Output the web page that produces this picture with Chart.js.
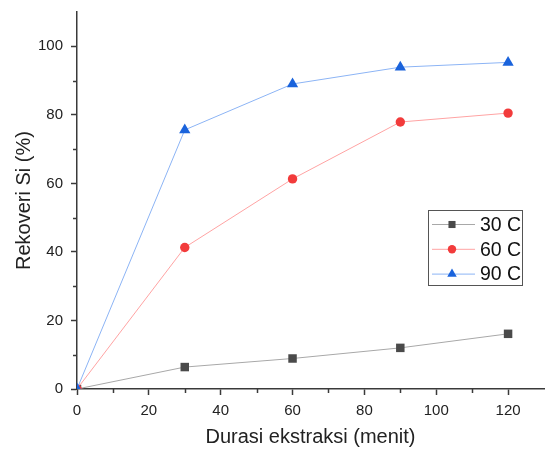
<!DOCTYPE html>
<html>
<head>
<meta charset="utf-8">
<script src="https://cdn.jsdelivr.net/npm/chart.js@4"></script>
<style>
  html, body { margin: 0; padding: 0; background: #fff; }
  #wrap { width: 545px; height: 450px; }
</style>
</head>
<body>
<div id="wrap"><canvas id="chart" width="545" height="450"></canvas></div>
<script>
// extraction time (minutes) and Si recovery (%) per temperature
const durations = [0, 30, 60, 90, 120];
const rec30 = [0, 6.4, 8.9, 12.0, 16.1];
const rec60 = [0, 41.3, 61.3, 77.9, 80.5];
const rec90 = [0, 75.6, 89.0, 93.9, 95.3];
const seriesLabels = ['30 C', '60 C', '90 C'];

const FONT = "'Liberation Sans', Arial, sans-serif";
const AXIS = '#3a3a3a';

function toPoints(ys) {
    return durations.map((x, i) => ({ x: x, y: ys[i] }));
}

// minor tick marks halfway between the labelled ones
const minorTicks = {
    id: 'minorTicks',
    afterDraw(chart) {
        const { ctx, scales: { x, y } } = chart;
        ctx.save();
        ctx.strokeStyle = AXIS;
        ctx.lineWidth = 1.5;
        for (let v = 10; v < 130; v += 20) {
            const px = Math.round(x.getPixelForValue(v)) + 0.5;
            ctx.beginPath();
            ctx.moveTo(px, x.top);
            ctx.lineTo(px, x.top + 4);
            ctx.stroke();
        }
        for (let v = 10; v < 110; v += 20) {
            const py = Math.round(y.getPixelForValue(v)) + 0.5;
            ctx.beginPath();
            ctx.moveTo(y.right, py);
            ctx.lineTo(y.right - 4, py);
            ctx.stroke();
        }
        ctx.restore();
    }
};

// boxed legend with line + marker samples, like the original plot
const legendRadius = [5, 4.2, 5.5];
const boxLegend = {
    id: 'boxLegend',
    afterDraw(chart) {
        const { ctx, chartArea } = chart;
        const boxW = 94, boxH = 75;
        const bx = chartArea.right - 22 - boxW;
        const by = 210;
        ctx.save();
        ctx.fillStyle = '#fff';
        ctx.fillRect(bx + 0.5, by + 0.5, boxW, boxH);
        ctx.strokeStyle = '#555';
        ctx.lineWidth = 1;
        ctx.strokeRect(bx + 0.5, by + 0.5, boxW, boxH);

        chart.data.datasets.forEach((ds, i) => {
            const cy = by + 14.5 + i * 24.8;
            ctx.strokeStyle = ds.borderColor;
            ctx.lineWidth = 1;
            ctx.beginPath();
            ctx.moveTo(bx + 4, cy);
            ctx.lineTo(bx + 47, cy);
            ctx.stroke();

            ctx.fillStyle = ds.pointBackgroundColor;
            ctx.strokeStyle = ds.pointBorderColor;
            Chart.helpers.drawPoint(ctx, {
                pointStyle: ds.pointStyle,
                radius: legendRadius[i],
                borderWidth: 0,
                rotation: 0
            }, bx + 24, cy);

            ctx.fillStyle = '#111';
            ctx.font = '19.5px ' + FONT;
            ctx.textBaseline = 'middle';
            ctx.textAlign = 'left';
            ctx.fillText(ds.label, bx + 52, cy + 1);
        });
        ctx.restore();
    }
};

new Chart(document.getElementById('chart'), {
    type: 'line',
    data: {
        datasets: [
            {
                label: seriesLabels[0],
                data: toPoints(rec30),
                borderColor: '#a8a8a8',
                borderWidth: 1,
                pointStyle: 'rect',
                pointRadius: 6,
                pointBackgroundColor: '#4a4a4a',
                pointBorderColor: '#4a4a4a',
                pointBorderWidth: 0,
                order: 2,
                clip: 0
            },
            {
                label: seriesLabels[1],
                data: toPoints(rec60),
                borderColor: '#ffa3a3',
                borderWidth: 1,
                pointStyle: 'circle',
                pointRadius: 4.7,
                pointBackgroundColor: '#f23b3b',
                pointBorderColor: '#f23b3b',
                pointBorderWidth: 0,
                order: 1,
                clip: 0
            },
            {
                label: seriesLabels[2],
                data: toPoints(rec90),
                borderColor: '#8cb4f5',
                borderWidth: 1,
                pointStyle: 'triangle',
                pointRadius: 6.5,
                pointBackgroundColor: '#1a63dc',
                pointBorderColor: '#1a63dc',
                pointBorderWidth: 0,
                order: 0,
                clip: 0
            }
        ]
    },
    options: {
        responsive: false,
        animation: false,
        layout: {
            autoPadding: false,
            padding: { top: 12, right: 1, left: 0, bottom: 0 }
        },
        plugins: {
            legend: { display: false },
            tooltip: { enabled: false }
        },
        scales: {
            x: {
                type: 'linear',
                min: 0,
                max: 130,
                afterFit(scale) {
                    scale.height = 61;
                    scale.paddingLeft = 0;
                    scale.paddingRight = 0;
                },
                ticks: {
                    stepSize: 20,
                    includeBounds: false,
                    maxRotation: 0,
                    padding: 7,
                    color: '#222',
                    font: { family: FONT, size: 15 }
                },
                grid: {
                    drawOnChartArea: false,
                    tickLength: 6,
                    tickWidth: 1.5,
                    color: AXIS
                },
                border: { color: AXIS, width: 1.5 },
                title: {
                    display: true,
                    text: 'Durasi ekstraksi (menit)',
                    color: '#222',
                    font: { family: FONT, size: 20 },
                    padding: { top: 4, bottom: 1 }
                }
            },
            y: {
                min: 0,
                max: 110,
                afterFit(scale) {
                    scale.width = 77;
                    scale.paddingTop = 0;
                    scale.paddingBottom = 0;
                },
                ticks: {
                    stepSize: 20,
                    includeBounds: false,
                    padding: 8,
                    color: '#222',
                    font: { family: FONT, size: 15 }
                },
                grid: {
                    drawOnChartArea: false,
                    tickLength: 6,
                    tickWidth: 1.5,
                    color: AXIS
                },
                border: { color: AXIS, width: 1.5 },
                title: {
                    display: true,
                    text: 'Rekoveri Si (%)',
                    color: '#222',
                    font: { family: FONT, size: 20 },
                    padding: { top: 12, bottom: 0 }
                }
            }
        }
    },
    plugins: [minorTicks, boxLegend]
});
</script>
</body>
</html>
